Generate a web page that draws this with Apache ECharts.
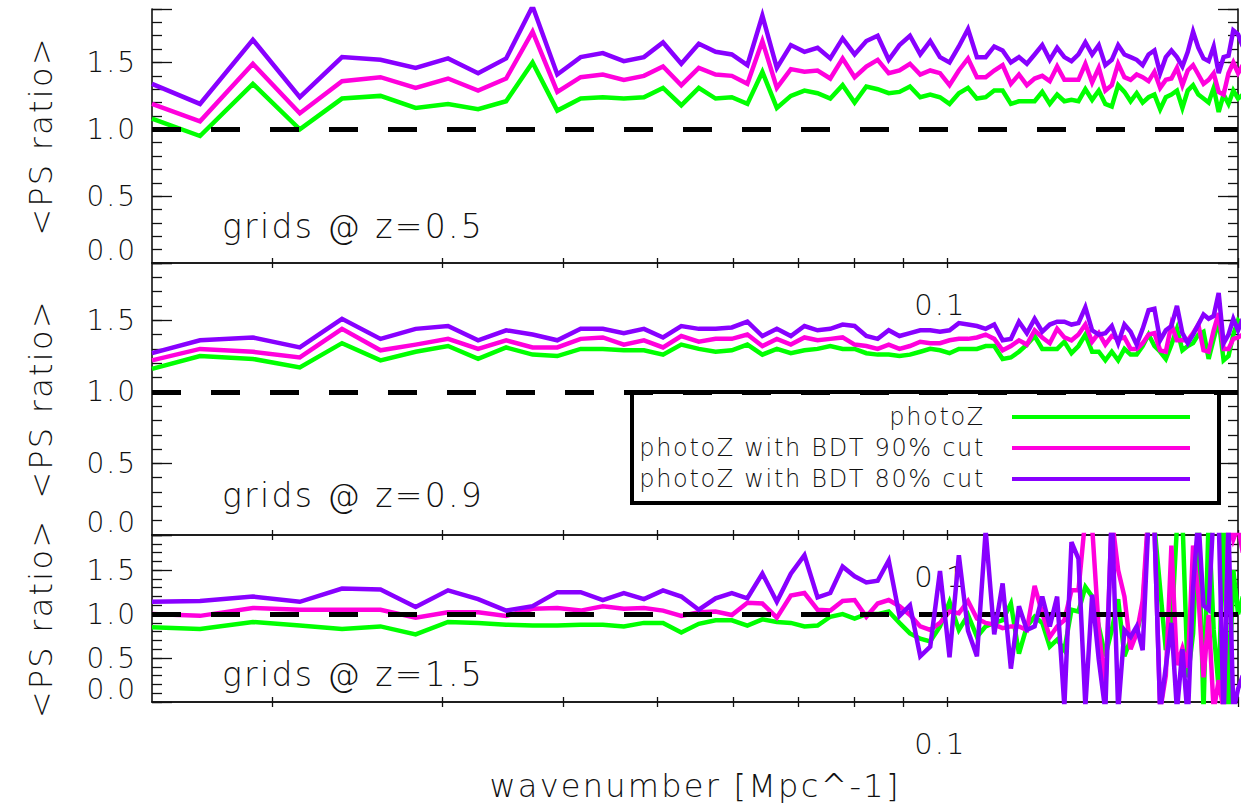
<!DOCTYPE html>
<html>
<head>
<meta charset="utf-8">
<script src="https://cdn.jsdelivr.net/npm/echarts@6/dist/echarts.min.js"></script>
<style>
html,body{margin:0;padding:0;background:#ffffff;}
#chart{width:1249px;height:808px;}
#chart svg text{letter-spacing:0.07em;}
</style>
</head>
<body>
<div id="chart"></div>
<script>
// ---------- data ----------
const k = [0.0150,0.01682,0.01908,0.02134,0.02360,0.02587,0.02813,0.03039,0.03265,0.03491,
0.03718,0.03944,0.04170,0.04396,0.04622,0.04849,0.05075,0.05301,0.05527,0.05753,
0.05980,0.06206,0.06432,0.06658,0.06884,0.07111,0.07337,0.07563,0.07789,0.08015,
0.08242,0.08468,0.08694,0.08920,0.09146,0.09373,0.09599,0.09825,0.10051,0.10277,
0.10504,0.10730,0.10956,0.11182,0.11408,0.11635,0.11861,0.12087,0.12313,0.12539,
0.12766,0.12992,0.13218,0.13444,0.13670,0.13897,0.14123,0.14349,0.14575,0.14801,
0.15028,0.15254,0.15480,0.15706,0.15932,0.16159,0.16385,0.16611,0.16837,0.17063,
0.17290,0.17516,0.17742,0.17968,0.18194,0.18421,0.18647,0.18873,0.19099,0.19325,
0.19552,0.19778,0.20004,0.20230];

// z = 0.5
const z05_photoZ = [1.08,0.95,1.34,1.00,1.23,1.25,1.16,1.19,1.15,1.21,1.50,1.14,1.23,1.24,1.23,1.24,1.31,1.18,1.31,
1.23,1.24,1.19,1.43,1.16,1.25,1.29,1.27,1.23,1.33,1.20,1.32,1.30,1.27,
1.28,1.32,1.24,1.26,1.24,1.19,1.27,1.31,1.23,1.24,1.29,1.29,1.19,1.21,1.21,1.21,1.28,1.19,1.26,1.21,
1.22,1.21,1.30,1.22,1.29,1.19,1.17,1.33,1.28,1.21,1.27,1.20,1.24,1.26,1.15,1.24,1.26,1.29,1.16,1.29,
1.33,1.26,1.23,1.20,1.31,1.13,1.26,1.19,1.29,1.23,1.26];
const z05_bdt90 = [1.19,1.06,1.49,1.12,1.36,1.39,1.31,1.38,1.29,1.38,1.73,1.28,1.39,1.41,1.37,1.40,1.47,1.33,1.46,
1.41,1.40,1.34,1.66,1.31,1.45,1.43,1.44,1.38,1.53,1.39,1.47,1.52,1.42,
1.44,1.49,1.41,1.44,1.42,1.33,1.44,1.53,1.39,1.39,1.44,1.48,1.34,1.41,1.33,1.38,1.40,1.36,1.47,1.37,
1.37,1.37,1.49,1.35,1.46,1.29,1.33,1.49,1.39,1.37,1.41,1.39,1.36,1.43,1.31,1.37,1.38,1.46,1.33,1.44,
1.48,1.41,1.34,1.37,1.42,1.28,1.26,1.42,1.50,1.42,1.48];
const z05_bdt80 = [1.34,1.19,1.67,1.24,1.54,1.52,1.46,1.53,1.42,1.53,1.92,1.41,1.54,1.57,1.51,1.54,1.65,1.49,1.64,
1.58,1.56,1.48,1.85,1.46,1.63,1.58,1.61,1.53,1.68,1.56,1.66,1.70,1.52,
1.63,1.70,1.56,1.66,1.54,1.50,1.62,1.75,1.54,1.54,1.62,1.59,1.50,1.54,1.49,1.56,1.63,1.52,1.61,1.54,
1.51,1.56,1.65,1.56,1.63,1.48,1.52,1.63,1.56,1.54,1.52,1.48,1.56,1.59,1.42,1.54,1.59,1.54,1.47,1.58,
1.73,1.61,1.53,1.51,1.62,1.42,1.54,1.55,1.74,1.71,1.62];

// z = 0.9
const z09_photoZ = [1.16,1.25,1.23,1.17,1.34,1.22,1.28,1.32,1.23,1.31,1.26,1.25,1.30,1.30,1.29,1.29,1.26,1.33,1.30,
1.28,1.29,1.33,1.26,1.30,1.27,1.29,1.30,1.32,1.30,1.30,1.27,1.26,1.26,
1.25,1.26,1.28,1.30,1.29,1.27,1.30,1.30,1.30,1.32,1.32,1.23,1.24,1.28,1.33,1.39,1.30,1.30,1.30,1.35,
1.27,1.32,1.40,1.28,1.28,1.22,1.28,1.22,1.30,1.26,1.26,1.32,1.40,1.32,1.28,1.23,1.33,1.44,1.29,1.32,
1.34,1.40,1.42,1.23,1.37,1.50,1.22,1.25,1.40,1.50,1.47];
const z09_bdt90 = [1.22,1.30,1.28,1.24,1.44,1.29,1.33,1.37,1.30,1.36,1.31,1.31,1.37,1.38,1.33,1.36,1.31,1.39,1.35,
1.37,1.37,1.40,1.32,1.37,1.33,1.38,1.36,1.37,1.38,1.33,1.32,1.30,1.33,
1.30,1.32,1.35,1.34,1.34,1.36,1.37,1.37,1.38,1.40,1.37,1.29,1.32,1.36,1.33,1.43,1.38,1.34,1.44,1.38,
1.36,1.40,1.47,1.35,1.41,1.33,1.39,1.37,1.38,1.30,1.30,1.34,1.40,1.41,1.29,1.28,1.47,1.36,1.36,1.36,
1.41,1.47,1.29,1.28,1.43,1.55,1.30,1.30,1.37,1.38,1.40];
const z09_bdt80 = [1.27,1.36,1.38,1.31,1.51,1.37,1.44,1.46,1.36,1.43,1.40,1.36,1.44,1.44,1.41,1.44,1.38,1.46,1.44,
1.44,1.45,1.49,1.39,1.44,1.39,1.46,1.43,1.44,1.47,1.46,1.39,1.37,1.43,
1.39,1.41,1.43,1.43,1.42,1.43,1.48,1.47,1.46,1.44,1.47,1.36,1.37,1.49,1.41,1.51,1.42,1.47,1.49,1.49,
1.47,1.48,1.59,1.43,1.40,1.41,1.46,1.34,1.47,1.42,1.33,1.44,1.57,1.58,1.36,1.43,1.46,1.60,1.41,1.34,
1.40,1.47,1.54,1.51,1.53,1.69,1.34,1.40,1.51,1.43,1.51];

// z = 1.5
const z15_photoZ = [0.85,0.83,0.91,0.87,0.83,0.86,0.77,0.91,0.90,0.88,0.87,0.87,0.88,0.88,0.86,0.90,0.90,0.79,0.89,
0.93,0.93,0.87,0.94,0.91,0.90,0.86,0.87,0.97,1.00,0.95,1.00,1.00,1.03,
0.90,0.78,0.72,0.69,0.86,1.14,0.82,0.99,0.74,0.86,0.90,0.93,1.12,0.55,0.86,0.97,0.90,0.63,0.71,0.59,1.05,
1.03,1.31,1.20,0.86,0.52,0.82,1.17,0.52,0.71,0.78,1.08,2.10,2.00,1.29,0.59,0.82,2.00,2.10,0.28,0.78,
2.10,-0.10,2.10,0.82,0.15,2.10,-0.10,1.50,1.00,1.20];
const z15_bdt90 = [1.00,0.98,1.07,1.05,1.05,1.05,0.96,1.02,1.02,0.98,1.06,1.07,1.04,1.09,1.06,1.07,1.04,0.98,1.02,
1.03,0.99,1.13,1.12,0.96,1.21,1.24,1.05,1.04,1.15,1.16,0.97,1.12,1.16,
1.09,0.99,0.86,0.82,0.90,1.03,1.01,1.15,0.95,0.90,0.88,0.84,0.86,0.86,0.82,1.32,1.01,0.74,0.86,0.93,1.27,
1.27,2.10,2.00,0.82,0.15,2.10,1.50,1.20,0.60,0.78,1.15,2.20,2.00,-0.10,0.30,1.78,0.42,0.61,0.39,1.78,
1.23,0.28,0.99,-0.10,0.25,-0.10,2.10,1.85,2.00,1.70];
const z15_bdt80 = [1.14,1.15,1.20,1.14,1.29,1.28,1.08,1.27,1.17,1.04,1.09,1.25,1.25,1.16,1.24,1.17,1.27,1.20,1.05,
1.18,1.24,1.18,1.46,1.14,1.46,1.67,1.19,1.24,1.54,1.43,1.36,1.38,1.61,
0.98,1.10,0.52,0.63,1.49,0.51,1.67,0.81,0.52,1.95,0.77,1.35,0.38,1.09,0.82,0.86,1.20,0.86,1.20,-0.05,1.82,
1.63,-0.05,1.22,0.48,-0.10,2.20,-0.10,0.82,0.74,0.86,0.59,2.10,2.00,-0.10,0.40,0.90,-0.10,0.60,-0.20,1.30,
2.10,1.10,1.05,2.20,2.10,-0.20,2.00,-0.10,0.15,0.30];

const seriesNames = ['photoZ', 'photoZ with BDT 90% cut', 'photoZ with BDT 80% cut'];
const panelLabels = ['grids @ z=0.5', 'grids @ z=0.9', 'grids @ z=1.5'];
const panelData = [
  [z05_photoZ, z05_bdt90, z05_bdt80],
  [z09_photoZ, z09_bdt90, z09_bdt80],
  [z15_photoZ, z15_bdt90, z15_bdt80]
];
const yTickLabels = [0.0, 0.5, 1.0, 1.5];
const xTickValues = [0.02, 0.03, 0.04, 0.05, 0.06, 0.07, 0.08, 0.09, 0.1, 0.2];
const xLabelValues = [0.1];
const refLine = 1.0;

// ---------- style ----------
const FONT = "'DejaVu Sans Light', 'DejaVu Sans'";
const INK = '#111111';
const colors = ['#00ff00', '#ff00dd', '#8800ff'];
const grids = [
  {left: 152, top: 9, width: 1086, height: 254},
  {left: 152, top: 263, width: 1086, height: 272},
  {left: 152, top: 535, width: 1086, height: 167}
];
const labelTops = [210, 479, 658];

function xFmt(v) {
  return xLabelValues.some(t => Math.abs(t - v) < 1e-6) ? '0.1' : '';
}
function yFmt(v) {
  const r = Math.round(v * 10) / 10;
  if (!yTickLabels.some(t => Math.abs(t - r) < 1e-6)) return '';
  return r === 0 ? '{z|0.0}' : r.toFixed(1);
}

const xAxes = [], yAxes = [], series = [];
grids.forEach((g, p) => {
  const lineS = {show: true, lineStyle: {color: INK, width: 1.6}};
  xAxes.push({
    type: 'log', logBase: 10, gridIndex: p, position: 'bottom', min: 0.015, max: 0.2,
    axisLine: lineS,
    axisTick: {show: true, inside: true, length: 5, customValues: xTickValues, lineStyle: {color: INK, width: 1.3}},
    minorTick: {show: false}, splitLine: {show: false},
    axisLabel: {show: true, customValues: xLabelValues, formatter: xFmt, fontFamily: FONT, fontSize: 29,
      color: INK, margin: 27, padding: [0, 14, 0, 0], showMinLabel: false, showMaxLabel: false},
    name: p === 2 ? 'wavenumber [Mpc^-1]' : '', nameLocation: 'middle', nameGap: 68,
    nameTextStyle: {fontFamily: FONT, fontSize: 32, color: INK}
  });
  xAxes.push({
    type: 'log', logBase: 10, gridIndex: p, position: 'top', min: 0.015, max: 0.2,
    axisLine: lineS,
    axisTick: {show: true, inside: true, length: 5, customValues: xTickValues, lineStyle: {color: INK, width: 1.3}},
    splitLine: {show: false}, axisLabel: {show: false}
  });
  const yBase = {type: 'value', gridIndex: p, min: 0, max: 1.9, splitLine: {show: false}};
  yAxes.push(Object.assign({}, yBase, {
    position: 'left', interval: 0.1,
    axisLine: lineS,
    axisTick: {show: true, inside: true, length: 10, lineStyle: {color: INK, width: 1.3}},
    axisLabel: {show: true, formatter: yFmt, fontFamily: FONT, fontSize: 28, color: INK, margin: 15,
      rich: {z: {fontFamily: FONT, fontSize: 28, color: INK, padding: [0, 0, 26, 0]}}},
    name: '<PS ratio>', nameLocation: 'middle', nameRotate: 90, nameGap: 95,
    nameTextStyle: {fontFamily: FONT, fontSize: 32, color: INK}
  }));
  yAxes.push(Object.assign({}, yBase, {
    position: 'left', interval: 0.5, axisLine: {show: false},
    axisTick: {show: true, inside: true, length: 20, lineStyle: {color: INK, width: 1.3}},
    axisLabel: {show: false}
  }));
  yAxes.push(Object.assign({}, yBase, {
    position: 'right', interval: 0.1, axisLine: lineS,
    axisTick: {show: true, inside: true, length: 10, lineStyle: {color: INK, width: 1.3}},
    axisLabel: {show: false}
  }));
  yAxes.push(Object.assign({}, yBase, {
    position: 'right', interval: 0.5, axisLine: {show: false},
    axisTick: {show: true, inside: true, length: 20, lineStyle: {color: INK, width: 1.3}},
    axisLabel: {show: false}
  }));
  panelData[p].forEach((arr, s) => {
    const ser = {
      type: 'line', name: seriesNames[s], xAxisIndex: 2 * p, yAxisIndex: 4 * p,
      data: k.map((x, i) => [x, arr[i]]),
      symbol: 'none', showSymbol: false, clip: true, silent: true, z: 3 + s,
      lineStyle: {color: colors[s], width: 4.5, join: 'miter'}, itemStyle: {color: colors[s]}
    };
    if (s === 2) {
      ser.markLine = {
        silent: true, symbol: ['none', 'none'], label: {show: false},
        lineStyle: {color: '#000000', width: 5, type: [29, 30], cap: 'butt'},
        emphasis: {disabled: true},
        data: [{yAxis: refLine}]
      };
    }
    series.push(ser);
  });
});

const option = {
  animation: false,
  backgroundColor: '#ffffff',
  grid: grids,
  xAxis: xAxes,
  yAxis: yAxes,
  series: series,
  legend: {
    show: true, orient: 'vertical', left: 632, top: 392, align: 'right',
    data: seriesNames, selectedMode: false,
    itemWidth: 178, itemHeight: 26, itemGap: 5,
    padding: [12, 27, 11, 31],
    borderColor: '#000000', borderWidth: 4, backgroundColor: '#ffffff',
    itemStyle: {opacity: 0, borderWidth: 0},
    lineStyle: {width: 4, opacity: 1},
    textStyle: {fontFamily: FONT, fontSize: 24, color: INK, width: 322, align: 'right',
      lineHeight: 26, padding: [0, 22, 0, 0]}
  },
  graphic: panelLabels.map((t, p) => ({
    type: 'text', left: 222, top: labelTops[p], silent: true,
    style: {text: t, fontFamily: FONT, fontSize: 33, fill: INK}
  }))
};

const chart = echarts.init(document.getElementById('chart'), null, {renderer: 'svg'});
chart.setOption(option);
</script>
</body>
</html>
